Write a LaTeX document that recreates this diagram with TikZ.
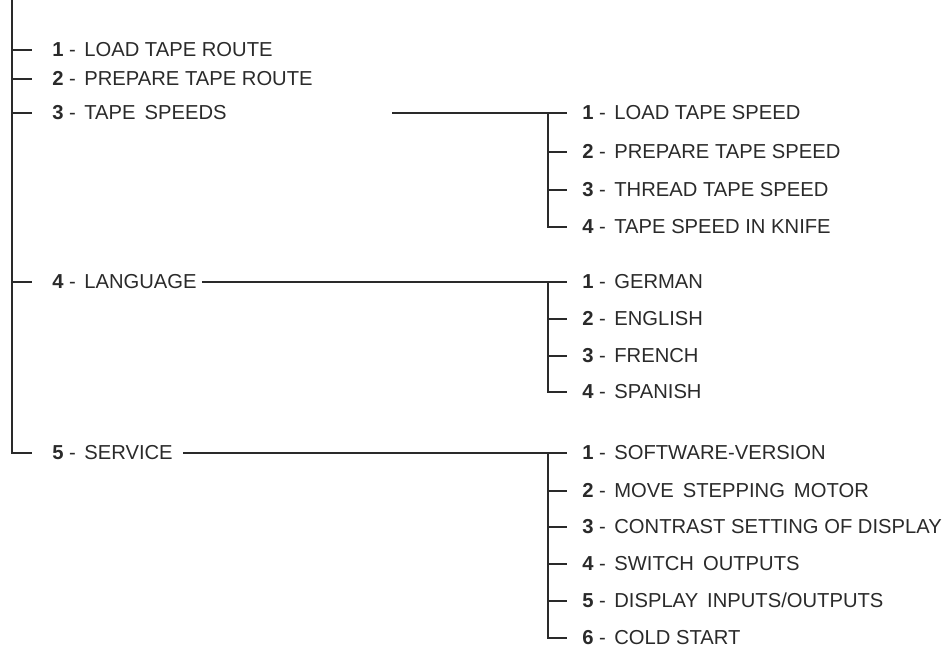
\documentclass[tikz,border=0pt]{standalone}
\usepackage{fontspec}
\setmainfont{Liberation Sans}
\usetikzlibrary{positioning}
\definecolor{ink}{HTML}{2A2A2A}
\newcommand{\itemno}[1]{\textbf{#1}\hspace{3.2pt}-\hspace{1.6pt} }

\begin{document}
\begin{tikzpicture}[x=0.02cm, y=-0.02cm,
  item/.style={anchor=west, inner xsep=0pt, inner ysep=0pt,
               text height=1.38ex, text depth=0pt, text=ink,
               font=\fontsize{11.5}{13}\selectfont},
  link/.style={draw=ink, line width=0.85pt},
  maintick/.style={link, shorten >=0.4cm},
  subtick/.style={link, shorten >=0.3cm}]

\useasboundingbox (0,0) rectangle (952,650);

% Main menu
\coordinate (top) at (12,0);
\node[item] (m1) at (52,50)  {\itemno{1}LOAD TAPE ROUTE};
\node[item] (m2) at (52,79)  {\itemno{2}PREPARE TAPE ROUTE};
\node[item] (m3) at (52,113) {\itemno{3}TAPE\, SPEEDS};
\node[item] (m4) at (52,282) {\itemno{4}LANGUAGE};
\node[item] (m5) at (52,453) {\itemno{5}SERVICE};

\draw[link] (top) |- ([xshift=-0.4cm]m5.west);
\foreach \n in {1,...,4}
  \draw[maintick] (top |- m\n.west) -- (m\n.west);

% Tape speeds
\coordinate (spine) at (548,0);
\coordinate (speedstart) at (392,113);
\node[item] (a1) at (582,113) {\itemno{1}LOAD TAPE SPEED};
\node[item] (a2) at (582,152) {\itemno{2}PREPARE TAPE SPEED};
\node[item] (a3) at (582,190) {\itemno{3}THREAD TAPE SPEED};
\node[item] (a4) at (582,227) {\itemno{4}TAPE SPEED IN KNIFE};

\draw[subtick] (speedstart) -- (a1.west);
\draw[link] (spine |- a1.west) |- ([xshift=-0.3cm]a4.west);
\foreach \n in {2,3}
  \draw[subtick] (spine |- a\n.west) -- (a\n.west);

% Language
\node[item] (b1) at (582,282) {\itemno{1}GERMAN};
\node[item] (b2) at (582,319) {\itemno{2}ENGLISH};
\node[item] (b3) at (582,356) {\itemno{3}FRENCH};
\node[item] (b4) at (582,392) {\itemno{4}SPANISH};

\draw[subtick] ([xshift=0.1cm]m4.east) -- (b1.west);
\draw[link] (spine |- b1.west) |- ([xshift=-0.3cm]b4.west);
\foreach \n in {2,3}
  \draw[subtick] (spine |- b\n.west) -- (b\n.west);

% Service
\node[item] (c1) at (582,453) {\itemno{1}SOFTWARE-VERSION};
\node[item] (c2) at (582,491) {\itemno{2}MOVE\, STEPPING\, MOTOR};
\node[item] (c3) at (582,527) {\itemno{3}CONTRAST SETTING OF DISPLAY};
\node[item] (c4) at (582,564) {\itemno{4}SWITCH\, OUTPUTS};
\node[item] (c5) at (582,601) {\itemno{5}DISPLAY\, INPUTS/OUTPUTS};
\node[item] (c6) at (582,638) {\itemno{6}COLD START};

\draw[subtick] ([xshift=0.2cm]m5.east) -- (c1.west);
\draw[link] (spine |- c1.west) |- ([xshift=-0.3cm]c6.west);
\foreach \n in {2,...,5}
  \draw[subtick] (spine |- c\n.west) -- (c\n.west);

\end{tikzpicture}
\end{document}
